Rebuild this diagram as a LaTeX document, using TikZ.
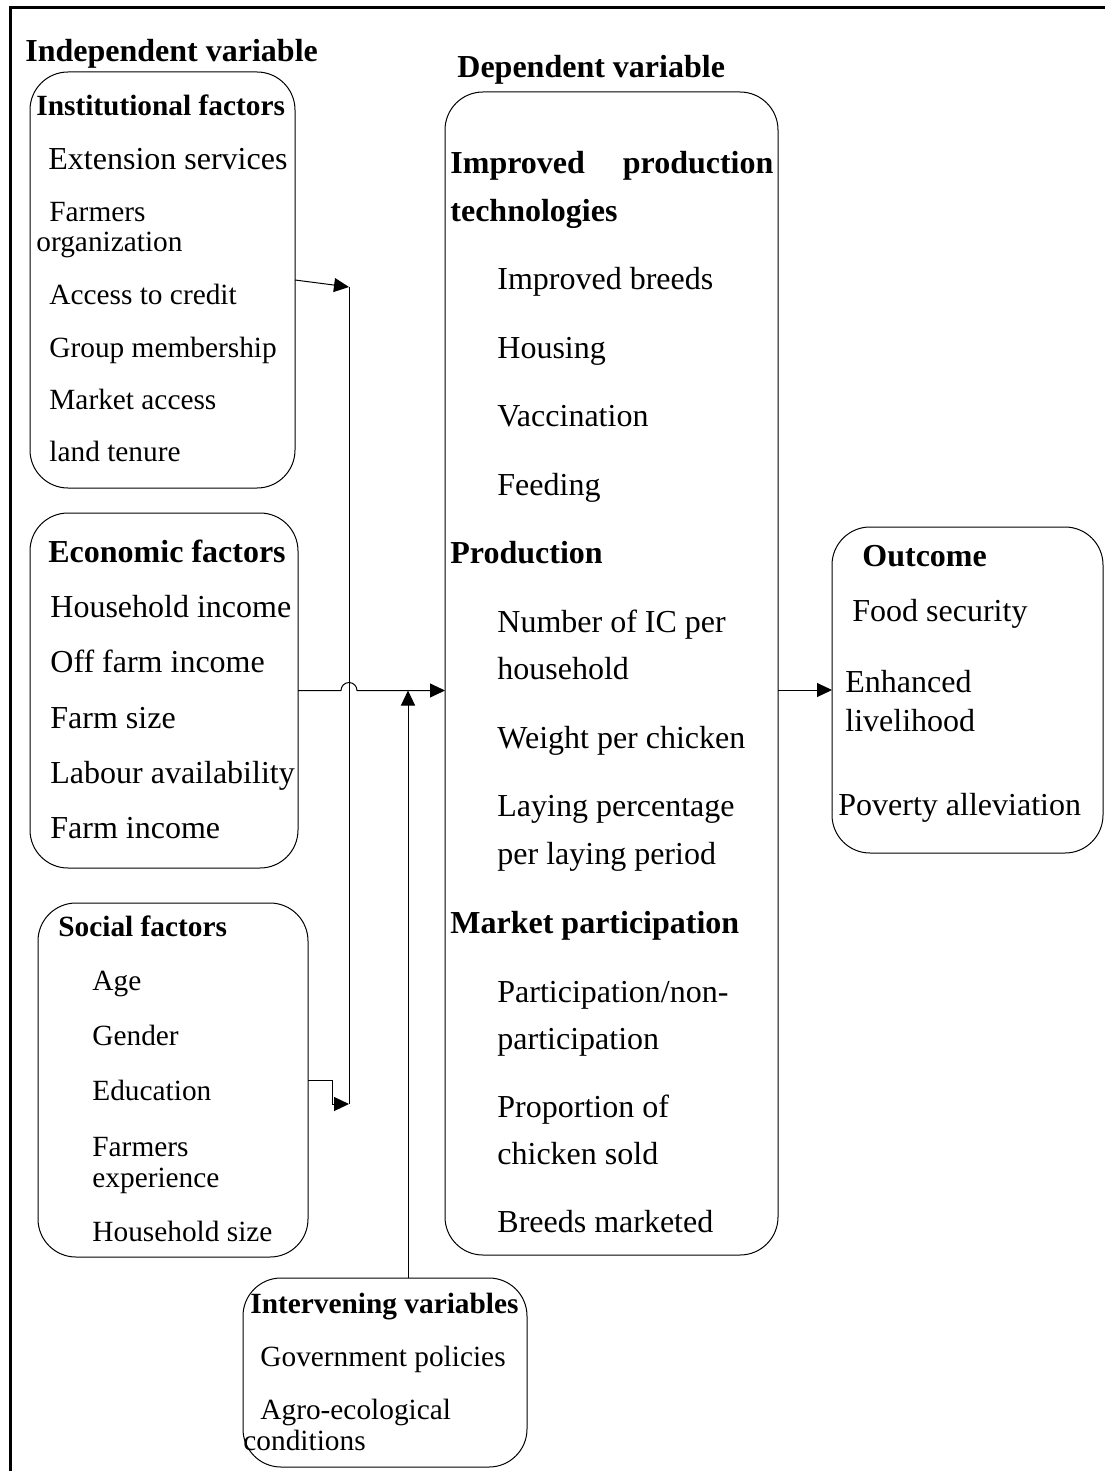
\documentclass[tikz,border=0pt]{standalone}
\usepackage{fontspec}
\setmainfont{Liberation Serif}
\usetikzlibrary{arrows.meta}
\tikzset{
  box/.style={draw, line width=0.5pt, rounded corners=19pt, inner sep=0pt, outer sep=0pt},
  big/.style={anchor=base west, inner sep=0pt, font=\fontsize{16}{19}\selectfont},
  sml/.style={anchor=base west, inner sep=0pt, font=\fontsize{14.67}{17}\selectfont},
  bigb/.style={big, font=\fontsize{16}{19}\selectfont\bfseries},
  smlb/.style={sml, font=\fontsize{14.67}{17}\selectfont\bfseries},
  conn/.style={line width=0.5pt, -{Triangle[length=7.5pt,width=7pt]}},
  plain/.style={line width=0.5pt},
  frame/.style={line width=1.5pt}
}
\begin{document}
\begin{tikzpicture}[x=0.5pt,y=-0.5pt]
\useasboundingbox (0,0) rectangle (1105,1471);
% outer frame
\coordinate (fA) at (10,1471);
\coordinate (fB) at (10,8);
\coordinate (fC) at (1105,8);
\draw[frame] (fA) -- (fB) -- (fC);

% boxes
\node[box, minimum width=132.5pt, minimum height=208pt] (inst) at (162.5,280) {};
\node[box, minimum width=134pt, minimum height=177.5pt] (econ) at (164,690.5) {};
\node[box, minimum width=135pt, minimum height=177pt] (soc) at (173,1080) {};
\node[box, minimum width=166.5pt, minimum height=581.5pt] (dep) at (611.5,673.5) {};
\node[box, minimum width=135.5pt, minimum height=163pt] (outc) at (967.5,690) {};
\node[box, minimum width=142pt, minimum height=94.5pt] (interv) at (385,1372.5) {};

% headings
\node[bigb] (h1) at (25,62) {Independent variable};
\node[bigb] (h2) at (457,78) {Dependent variable};

% institutional
\node[smlb] (i0) at (36,116) {Institutional factors};
\node[big] (i1) at (48,170) {Extension services};
\node[sml] (i2) at (49,221) {Farmers};
\node[sml] (i3) at (36,251) {organization};
\node[sml] (i4) at (49,304) {Access to credit};
\node[sml] (i5) at (49,357) {Group membership};
\node[sml] (i6) at (49,409) {Market access};
\node[sml] (i7) at (49,461) {land tenure};

% economic
\node[bigb] (e0) at (48,562) {Economic factors};
\node[big] (e1) at (50,617) {Household income};
\node[big] (e2) at (50,672) {Off farm income};
\node[big] (e3) at (50,728) {Farm size};
\node[big] (e4) at (50,783) {Labour availability};
\node[big] (e5) at (50,838) {Farm income};

% social
\node[smlb] (s0) at (58,936) {Social factors};
\node[sml] (s1) at (92,990) {Age};
\node[sml] (s2) at (92,1045) {Gender};
\node[sml] (s3) at (92,1100) {Education};
\node[sml] (s4) at (92,1156) {Farmers};
\node[sml] (s5) at (92,1187) {experience};
\node[sml] (s6) at (92,1241) {Household size};

% dependent
\node[bigb] (d0) at (450,174) {\makebox[161.5pt][s]{Improved production}};
\node[bigb] (d1) at (450,221) {technologies};
\node[big] (d2) at (497,289) {Improved breeds};
\node[big] (d3) at (497,358) {Housing};
\node[big] (d4) at (497,426) {Vaccination};
\node[big] (d5) at (497,495) {Feeding};
\node[bigb] (d6) at (450,563) {Production};
\node[big] (d7) at (497,632) {Number of IC per};
\node[big] (d8) at (497,679) {household};
\node[big] (d9) at (497,748) {Weight per chicken};
\node[big] (d10) at (497,816) {Laying percentage};
\node[big] (d11) at (497,864) {per laying period};
\node[bigb] (d12) at (450,933) {Market participation};
\node[big] (d13) at (497,1002) {Participation/non-};
\node[big] (d14) at (497,1049) {participation};
\node[big] (d15) at (497,1117) {Proportion of};
\node[big] (d16) at (497,1164) {chicken sold};
\node[big] (d17) at (497,1232) {Breeds marketed};

% outcome
\node[bigb] (o0) at (862,566) {Outcome};
\node[big] (o1) at (852,621) {Food security};
\node[big] (o2) at (845,692) {Enhanced};
\node[big] (o3) at (845,731) {livelihood};
\node[big] (o4) at (838,815) {Poverty alleviation};

% intervening
\node[smlb] (v0) at (250,1313) {Intervening variables};
\node[sml] (v1) at (260,1366) {Government policies};
\node[sml] (v2) at (260,1419) {Agro-ecological};
\node[sml] (v3) at (243,1450) {conditions};

% connectors
\coordinate (j1) at (349,287);
\coordinate (j2) at (349,1104);
\coordinate (j3) at (408,1278);
\draw[conn] (inst.east) -- (j1);
\draw[plain] (j1) -- (j2);
\draw[conn] (soc.east) -- ++(24,0) |- (j2);
\draw[conn] (econ.east) -- ([xshift=-4pt]j1 |- econ.east) arc[start angle=180, end angle=0, radius=4pt] -- (econ.east -| dep.west);
\draw[conn] (j3) -- (j3 |- econ.east);
\draw[conn] (outc.west -| dep.east) -- (outc.west);
\end{tikzpicture}
\end{document}
